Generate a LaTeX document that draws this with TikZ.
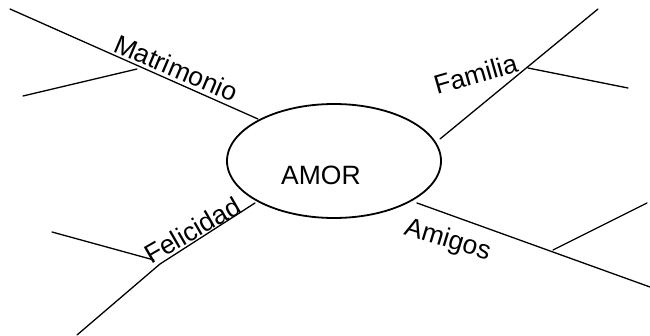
\documentclass[tikz,border=0pt]{standalone}
\usepackage{fontspec}
\setmainfont{Liberation Sans}
\usetikzlibrary{shapes.geometric}
\begin{document}
\begin{tikzpicture}[x=1pt,y=-1pt,
  branch/.style={line width=1.3pt, line cap=round},
  lbl/.style={inner sep=0pt, font=\fontsize{26.5}{30}\selectfont},
  hub/.style={ellipse, draw, line width=1.8pt, minimum width=214pt, minimum height=114pt, inner sep=0pt}]
\useasboundingbox (0,0) rectangle (650,336);
% central ellipse
\node[hub] (amor) at (334,161) {};
\node[lbl, anchor=base west] (amortxt) at (281,184.5) {AMOR};
% Matrimonio
\coordinate (ma) at (10,9);
\coordinate (mb) at (258,119);
\coordinate (mj) at (137,69);
\coordinate (mc) at (23,96);
\draw[branch] (ma) -- (mb);
\draw[branch] (mj) -- (mc);
\node[lbl, anchor=base west, rotate=-23] (mtxt) at (112,51) {Matrimonio};
% Familia
\coordinate (fa) at (598,9);
\coordinate (fb) at (440,139);
\coordinate (fj) at (528,68);
\coordinate (fc) at (628,88);
\draw[branch] (fa) -- (fb);
\draw[branch] (fj) -- (fc);
\node[lbl, anchor=base west, rotate=16] (ftxt) at (437,95) {Familia};
% Felicidad
\coordinate (la) at (77,335);
\coordinate (lk) at (160,264);
\coordinate (lb) at (255,203);
\coordinate (lj) at (154,260);
\coordinate (lc) at (52,232);
\draw[branch] (la) -- (lk) -- (lb);
\draw[branch] (lj) -- (lc);
\node[lbl, anchor=base west, rotate=30] (ltxt) at (151,265) {Felicidad};
% Amigos
\coordinate (aa) at (417,203);
\coordinate (ab) at (650,287);
\coordinate (aj) at (553,250);
\coordinate (ac) at (647,203);
\draw[branch] (aa) -- (ab);
\draw[branch] (aj) -- (ac);
\node[lbl, anchor=base west, rotate=-17] (atxt) at (403,234) {Amigos};
\end{tikzpicture}
\end{document}
